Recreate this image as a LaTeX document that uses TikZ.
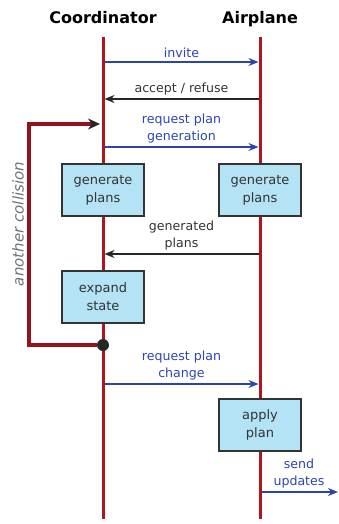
\documentclass[tikz,border=0pt]{standalone}
\usepackage{fontspec}
\setmainfont{DejaVu Sans}
\usetikzlibrary{arrows.meta,positioning}

\definecolor{lifered}{HTML}{B0141E}
\definecolor{msgblue}{HTML}{2B45B0}
\definecolor{boxblue}{HTML}{B3E3F5}

\tikzset{
  lifeline/.style={lifered, line width=3pt},
  actor/.style={font=\fontsize{16}{18}\selectfont\bfseries, inner sep=0pt},
  msg/.style={msgblue, line width=1.7pt, shorten <=1.5pt, shorten >=1.5pt,
    -{Stealth[length=10pt,width=8pt]}},
  reply/.style={black!85, line width=1.7pt, shorten <=1.5pt, shorten >=1.5pt,
    -{Stealth[length=10pt,width=8pt]}},
  lbl/.style={font=\fontsize{12.6}{17}\selectfont, align=center, inner sep=3pt},
  task/.style={draw=black!80, fill=boxblue, line width=1.2pt, minimum width=82pt,
    minimum height=52pt, align=center, text=black!80,
    font=\fontsize{13}{18}\selectfont},
}

\begin{document}
\begin{tikzpicture}[x=1pt,y=-1pt]

    \useasboundingbox (0,0) rectangle (339,524);

    % Actors
    \node[actor, anchor=base] (coord) at (103,23.5) {Coordinator};
    \node[actor, anchor=base] (plane) at (260,23.5) {Airplane};

    % Lifelines
    \coordinate (ctop) at (103,37);
    \coordinate (cbot) at (103,519);
    \coordinate (atop) at (260,37);
    \coordinate (abot) at (260,519);
    \draw[lifeline] (ctop) -- (cbot);
    \draw[lifeline] (atop) -- (abot);

    % Activities
    \node[task] (cgen) at (103,190) {generate\\plans};
    \node[task] (agen) at (260,190) {generate\\plans};
    \node[task] (expand) at (103,297) {expand\\state};
    \node[task] (apply) at (260,425) {apply\\plan};

    % Messages
    \coordinate (c1) at (103,62);  \coordinate (a1) at (260,62);
    \coordinate (c2) at (103,99);  \coordinate (a2) at (260,99);
    \coordinate (c3) at (103,147); \coordinate (a3) at (260,147);
    \coordinate (c4) at (103,254); \coordinate (a4) at (260,254);
    \coordinate (c5) at (103,384); \coordinate (a5) at (260,384);
    \coordinate (a6) at (260,492); \coordinate (out) at (338,492);

    \draw[msg] (c1) -- node[lbl, above, text=msgblue] {invite} (a1);
    \draw[reply] (a2) -- node[lbl, above, text=black!80] {accept / refuse} (c2);
    \draw[msg] (c3) -- node[lbl, above, text=msgblue] {request plan\\generation} (a3);
    \draw[reply] (a4) -- node[lbl, above, text=black!80] {generated\\plans} (c4);
    \draw[msg] (c5) -- node[lbl, above, text=msgblue] {request plan\\change} (a5);
    \draw[msg, shorten >=0pt] (a6) -- node[lbl, above, text=msgblue] {send\\updates} (out);

    % Loop back
    \node[circle, fill=black!85, minimum size=12pt, inner sep=0pt] (dot) at (103,345) {};
    \coordinate (turn) at (29,345);
    \coordinate (back) at (103,124);
    \draw[lifered!85!black, line width=3.5pt, line join=miter, shorten >=3pt,
      -{Stealth[length=12pt,width=11pt,black!85]}] (dot) -- (turn) |- (back);
    \node[rotate=90, text=black!55, font=\fontsize{15}{16}\selectfont\itshape]
      (note) at (18,224) {another collision};

\end{tikzpicture}
\end{document}
